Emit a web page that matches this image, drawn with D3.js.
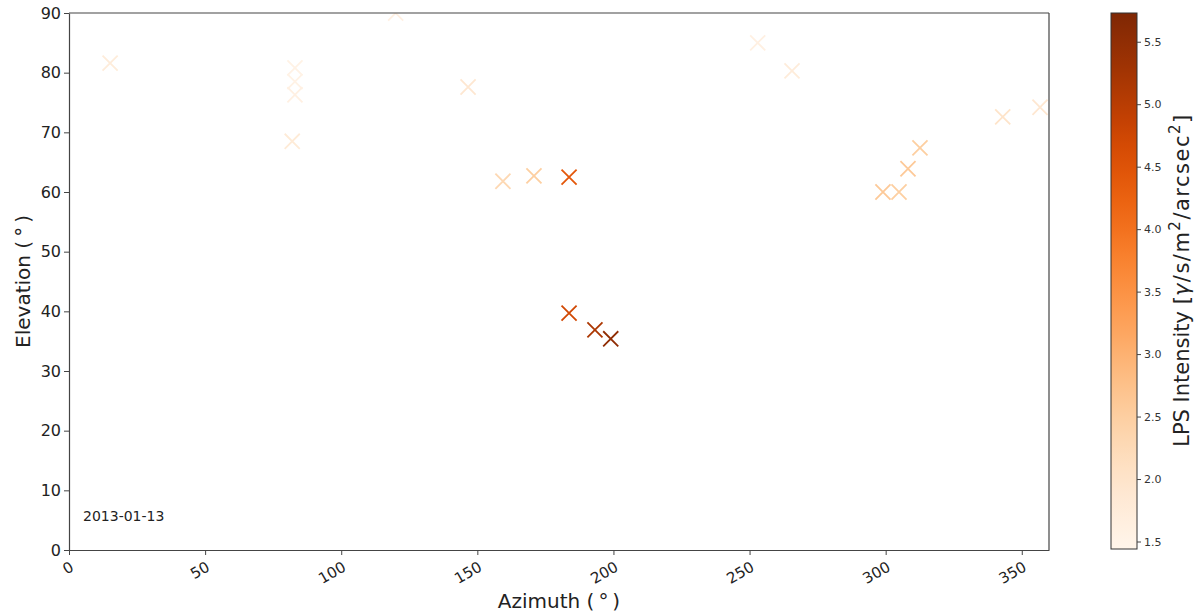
<!DOCTYPE html>
<html lang="en">
<head>
    <meta charset="utf-8">
    <title>LPS Intensity</title>
    <script src="https://d3js.org/d3.v7.min.js"></script>
    <style>
        body { margin: 0; background: #fff; }
        text { font-family: "DejaVu Sans", sans-serif; fill: #222; }
    </style>
</head>
<body>
<svg width="1199" height="615"></svg>
<script>
    // data
    var azimuth   = [15.1, 83.0, 83.0, 83.0, 82.0, 120.0, 146.6, 159.4, 170.8, 183.7, 183.7, 193.2, 199.0, 253.0, 265.6, 299.0, 304.9, 308.2, 312.6, 343.0, 356.7];
    var elevation = [81.6, 80.8, 78.5, 76.3, 68.5, 90.0, 77.6, 61.8, 62.7, 62.5, 39.7, 36.9, 35.4, 85.0, 80.3, 60.0, 60.0, 63.9, 67.4, 72.6, 74.2];
    var intensity = [1.75, 1.55, 1.55, 1.6, 1.8, 1.6, 1.9, 2.3, 2.5, 4.4, 4.7, 5.15, 5.5, 1.6, 1.75, 2.6, 2.5, 2.6, 2.5, 2.0, 1.9];
    var xTicks = [0, 50, 100, 150, 200, 250, 300, 350];
    var yTicks = [0, 10, 20, 30, 40, 50, 60, 70, 80, 90];
    var cTicks = [1.5, 2.0, 2.5, 3.0, 3.5, 4.0, 4.5, 5.0, 5.5];
    var cRange = [1.44, 5.73];
    var dateLabel = "2013-01-13";

    var plot = {left: 69, right: 1049, top: 13, bottom: 550};
    var svg = d3.select("svg");

    var x = d3.scaleLinear().domain([0, 360]).range([plot.left, plot.right]);
    var y = d3.scaleLinear().domain([0, 90]).range([plot.bottom, plot.top]);
    var color = d3.scaleSequential(d3.interpolateOranges).domain(cRange);

    svg.append("clipPath").attr("id", "clip")
        .append("rect")
        .attr("x", plot.left).attr("y", plot.top)
        .attr("width", plot.right - plot.left).attr("height", plot.bottom - plot.top);

    // markers
    var cross = d3.symbol(d3.symbolTimes).size(150);
    svg.append("g").attr("clip-path", "url(#clip)")
        .selectAll("path")
        .data(azimuth)
        .enter()
        .append("path")
        .attr("d", cross)
        .attr("transform", function(d, i){ return "translate(" + x(d) + "," + y(elevation[i]) + ")"; })
        .attr("fill", "none")
        .attr("stroke", function(d, i){ return color(intensity[i]); })
        .attr("stroke-width", 1.8);

    // axes
    var xAxis = svg.append("g")
        .attr("transform", "translate(0," + plot.bottom + ")")
        .call(d3.axisBottom(x).tickValues(xTicks).tickSize(5).tickSizeOuter(0));
    xAxis.selectAll("text")
        .attr("font-size", 15)
        .attr("text-anchor", "end")
        .attr("dy", null)
        .attr("y", 0)
        .attr("transform", "translate(3,16) rotate(-30)")
        .attr("dominant-baseline", "middle");

    svg.append("g")
        .attr("transform", "translate(" + plot.left + ",0)")
        .call(d3.axisLeft(y).tickValues(yTicks).tickSize(5).tickSizeOuter(0))
        .selectAll("text").attr("font-size", 16).attr("x", -8);

    svg.selectAll(".domain").attr("stroke", "#444").attr("stroke-width", 1.2);
    svg.selectAll(".tick line").attr("stroke", "#444");
    svg.selectAll(".tick text").style("fill", "#222");

    // top and right spines
    svg.append("line").attr("x1", plot.left).attr("x2", plot.right)
        .attr("y1", plot.top).attr("y2", plot.top).attr("stroke", "#444").attr("stroke-width", 1.2);
    svg.append("line").attr("x1", plot.right).attr("x2", plot.right)
        .attr("y1", plot.top).attr("y2", plot.bottom).attr("stroke", "#444").attr("stroke-width", 1.2);

    // labels
    svg.append("text").attr("x", (plot.left + plot.right) / 2).attr("y", 608)
        .attr("text-anchor", "middle").attr("font-size", 20)
        .text("Azimuth (\u2009°\u2009)");
    svg.append("text")
        .attr("transform", "translate(30," + ((plot.top + plot.bottom) / 2) + ") rotate(-90)")
        .attr("text-anchor", "middle").attr("font-size", 20)
        .text("Elevation (\u2009°\u2009)");
    svg.append("text").attr("x", 83).attr("y", 521)
        .attr("font-size", 14).text(dateLabel);

    // colorbar
    var cb = {left: 1111, width: 26};
    var cy = d3.scaleLinear().domain(cRange).range([plot.bottom - 1, plot.top]);
    var grad = svg.append("defs").append("linearGradient").attr("id", "grad")
        .attr("x1", 0).attr("x2", 0).attr("y1", 1).attr("y2", 0);
    d3.range(0, 1.0001, 0.05).forEach(function(t){
        grad.append("stop").attr("offset", t)
            .attr("stop-color", color(cRange[0] + t * (cRange[1] - cRange[0])));
    });
    svg.append("rect")
        .attr("x", cb.left).attr("y", plot.top)
        .attr("width", cb.width).attr("height", plot.bottom - 1 - plot.top)
        .attr("fill", "url(#grad)")
        .attr("stroke", "#333").attr("stroke-width", 1);
    var cAxis = svg.append("g")
        .attr("transform", "translate(" + (cb.left + cb.width) + ",0)")
        .call(d3.axisRight(cy).tickValues(cTicks).tickFormat(d3.format(".1f")).tickSize(4));
    cAxis.select(".domain").remove();
    cAxis.selectAll("text").attr("font-size", 11).style("fill", "#333");
    cAxis.selectAll("line").attr("stroke", "#444");

    var cl = svg.append("text")
        .attr("transform", "translate(1189,280) rotate(-90)")
        .attr("text-anchor", "middle").attr("font-size", 21);
    cl.append("tspan").text("LPS Intensity [");
    var br = cl.append("tspan").attr("letter-spacing", 1.5);
    br.append("tspan").attr("font-style", "italic").text("γ");
    br.append("tspan").text("/s/m");
    br.append("tspan").attr("font-size", 15).attr("dy", -9).text("2");
    br.append("tspan").attr("dy", 9).text("/arcsec");
    br.append("tspan").attr("font-size", 15).attr("dy", -9).text("2");
    br.append("tspan").attr("dy", 9).text("]");
</script>
</body>
</html>
